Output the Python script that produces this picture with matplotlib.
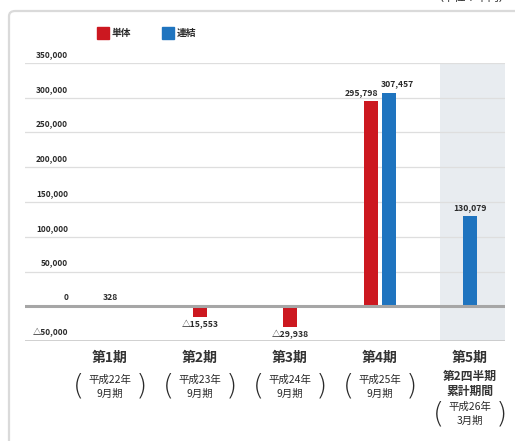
import matplotlib
matplotlib.use("Agg")
import matplotlib.pyplot as plt
from matplotlib.patches import FancyBboxPatch, Rectangle
from matplotlib.transforms import blended_transform_factory, offset_copy

plt.rcParams['font.family'] = ['Noto Sans CJK JP', 'DejaVu Sans']

# ---- data (単位：千円) ----
periods = ["第1期", "第2期", "第3期", "第4期", "第5期"]
sub_lines = [[], [], [], [], ["第2四半期", "累計期間"]]
paren_lines = [["平成22年", "9月期"], ["平成23年", "9月期"], ["平成24年", "9月期"],
               ["平成25年", "9月期"], ["平成26年", "3月期"]]
tantai = [328, -15553, -29938, 295798, None]      # 単体
renketsu = [None, None, None, 307457, 130079]     # 連結
y_ticks = [-50000, 0, 50000, 100000, 150000, 200000, 250000, 300000, 350000]

RED = "#cc1820"
BLUE = "#1f74bf"
TXT = "#2a2a2a"

W, H = 515, 441
fig = plt.figure(figsize=(W / 100, H / 100), dpi=100)

def fy(py):
    return 1 - py / H

# outer panel
panel = FancyBboxPatch((9 / W, fy(452)), 520 / W, 441 / H,
                       boxstyle="round,pad=0,rounding_size=0.012",
                       transform=fig.transFigure, facecolor="white",
                       edgecolor="#dadada", linewidth=1.6, zorder=-5)
fig.patches.append(panel)
fig.text(510 / W, fy(3), "（単位：千円）", ha="right", va="bottom",
         fontsize=8, color=TXT)

ax = fig.add_axes([25 / W, fy(341), 480 / W, 278 / H])
ax.set_zorder(2)
ax.set_facecolor("none")
for s in ax.spines.values():
    s.set_visible(False)
ax.set_xticks([])
ax.set_yticks([])

x_lo, x_hi = -85 / 90, 395 / 90
ax.set_xlim(x_lo, x_hi)
ax.set_ylim(y_ticks[0], y_ticks[-1])

# shaded band behind the latest period
ax.axvspan(3 + 60 / 90, x_hi, color="#e8ecf0", zorder=0, lw=0)

# grid
for v in y_ticks:
    if v == 0:
        ax.axhline(v, color="#a6a6a6", lw=2.2, zorder=3)
    elif v == y_ticks[0]:
        ax.axhline(v, color="#c4c4c4", lw=1.1, zorder=1)
    else:
        ax.axhline(v, color="#dedede", lw=0.9, zorder=1)

# y labels sit just above their grid lines
lab_tr = offset_copy(blended_transform_factory(ax.transAxes, ax.transData),
                     fig=fig, x=0, y=4, units="dots")
for v in y_ticks:
    txt = f"{v:,}" if v >= 0 else f"△{-v:,}"
    ax.text(43 / 480, v, txt, transform=lab_tr, ha="right", va="bottom",
            fontsize=6, fontweight="bold", color=TXT)

bw = 0.16
off = 0.1
for i in range(len(periods)):
    a, b = tantai[i], renketsu[i]
    both = a is not None and b is not None
    for val, col, sign in ((a, RED, -1), (b, BLUE, 1)):
        if val is None:
            continue
        xc = i + sign * off if both else i
        ax.bar(xc, val, width=bw, color=col, zorder=2, lw=0)
        txt = f"{val:,}" if val >= 0 else f"△{-val:,}"
        if both:
            ha = "right" if sign < 0 else "left"
            xt = xc + bw / 2 if sign < 0 else xc - bw / 2 - 0.01
        else:
            ha, xt = "center", xc
        if val >= 0:
            tr = offset_copy(ax.transData, fig=fig, x=0, y=4, units="dots")
            va = "bottom"
        else:
            tr = offset_copy(ax.transData, fig=fig, x=0, y=-3, units="dots")
            va = "top"
        ax.text(xt, val, txt, transform=tr, ha=ha, va=va, fontsize=6.2,
                fontweight="bold", color=TXT, zorder=5)

# category labels under the plot
ctr = blended_transform_factory(ax.transData, fig.transFigure)
pix = offset_copy(ctr, fig=fig, x=-31, y=0, units="dots")
pix2 = offset_copy(ctr, fig=fig, x=31, y=0, units="dots")
for i, name in enumerate(periods):
    fig.text(i, fy(358), name, transform=ctr, ha="center", va="center",
             fontsize=10, fontweight="bold", color="#333333")
    y = 376
    for s in sub_lines[i]:
        fig.text(i, fy(y), s, transform=ctr, ha="center", va="center",
                 fontsize=8.5, fontweight="bold", color="#333333")
        y += 15
    y0 = 407 if sub_lines[i] else 380
    fig.text(i, fy(y0), paren_lines[i][0], transform=ctr, ha="center",
             va="center", fontsize=7.5, color=TXT)
    fig.text(i, fy(y0 + 14), paren_lines[i][1], transform=ctr, ha="center",
             va="center", fontsize=7.5, color=TXT)
    fig.text(i, fy(y0 + 7), "(", transform=pix, ha="center", va="center",
             fontsize=21, color=TXT, family="DejaVu Sans", fontweight="light")
    fig.text(i, fy(y0 + 7), ")", transform=pix2, ha="center", va="center",
             fontsize=21, color=TXT, family="DejaVu Sans", fontweight="light")

# legend
for x0, col, lab in ((97, RED, "単体"), (162, BLUE, "連結")):
    fig.patches.append(Rectangle((x0 / W, fy(39)), 12 / W, 12 / H,
                                 transform=fig.transFigure, color=col))
    fig.text((x0 + 15) / W, fy(33), lab, ha="left", va="center",
             fontsize=7, fontweight="bold", color=TXT)

fig.savefig("out.png", dpi=100)
